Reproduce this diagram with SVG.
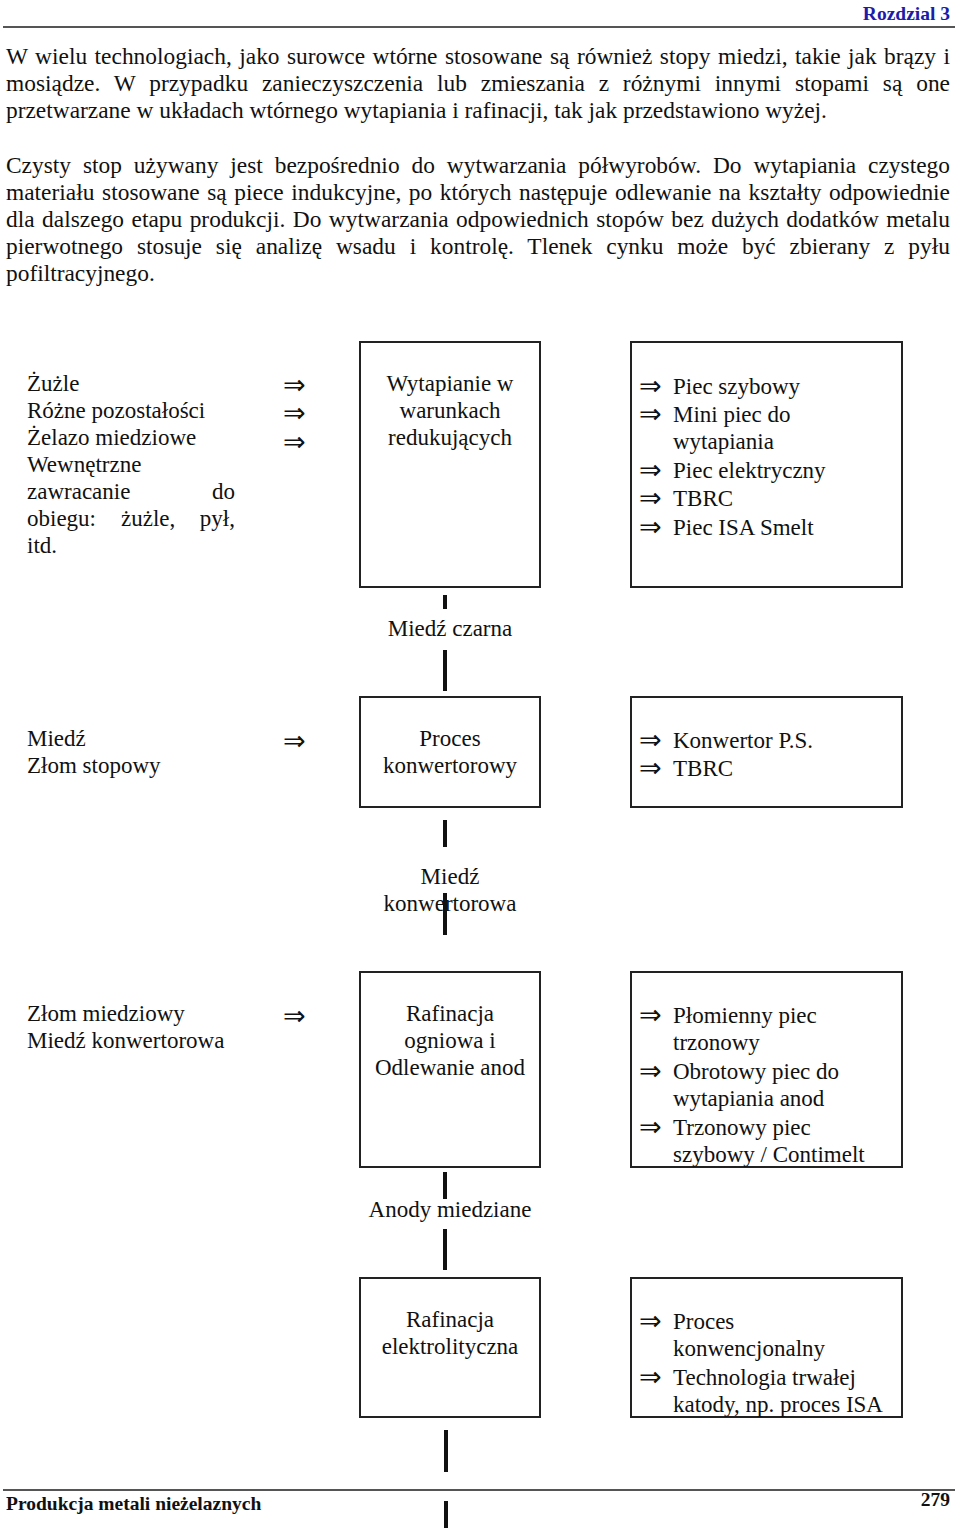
<svg xmlns="http://www.w3.org/2000/svg" width="960" height="1529" viewBox="0 0 960 1529">
<style>
text{font-family:"Liberation Serif","DejaVu Serif",serif;font-size:23px;fill:#111}
#body text{font-size:23.4px}
.c{text-anchor:middle}
.e{text-anchor:end}
.ar{font-family:"DejaVu Sans",sans-serif;font-size:27px;font-weight:normal}
.box{fill:none;stroke:#222;stroke-width:2}
.bar{stroke:#111;stroke-width:4}
.hd{font-weight:bold;font-size:19.5px}
</style>
<rect width="960" height="1529" fill="#fff"/>
<g id="header">
<text class="hd e" x="950" y="20" style="fill:#1c1caa">Rozdzial 3</text>
<line x1="3" y1="27" x2="955" y2="27" stroke="#555" stroke-width="2"/>
</g>
<g id="body">
<text x="6" y="64" word-spacing="1.6" textLength="944" lengthAdjust="spacing">W wielu technologiach, jako surowce wtórne stosowane są również stopy miedzi, takie jak brązy i</text>
<text x="6" y="91" word-spacing="7.9" textLength="944" lengthAdjust="spacing">mosiądze. W przypadku zanieczyszczenia lub zmieszania z różnymi innymi stopami są one</text>
<text x="6" y="118">przetwarzane w układach wtórnego wytapiania i rafinacji, tak jak przedstawiono wyżej.</text>
<text x="6" y="173" word-spacing="6" textLength="944" lengthAdjust="spacing">Czysty stop używany jest bezpośrednio do wytwarzania półwyrobów. Do wytapiania czystego</text>
<text x="6" y="200" word-spacing="1.7" textLength="944" lengthAdjust="spacing">materiału stosowane są piece indukcyjne, po których następuje odlewanie na kształty odpowiednie</text>
<text x="6" y="227" word-spacing="1.5" textLength="944" lengthAdjust="spacing">dla dalszego etapu produkcji. Do wytwarzania odpowiednich stopów bez dużych dodatków metalu</text>
<text x="6" y="254" word-spacing="8" textLength="944" lengthAdjust="spacing">pierwotnego stosuje się analizę wsadu i kontrolę. Tlenek cynku może być zbierany z pyłu</text>
<text x="6" y="281">pofiltracyjnego.</text>
</g>
<g id="connectors">
<line class="bar" x1="445" y1="595" x2="445" y2="609"/>
<line class="bar" x1="445" y1="650" x2="445" y2="691"/>
<line class="bar" x1="445" y1="820" x2="445" y2="847"/>
<line class="bar" x1="445" y1="893" x2="445" y2="935"/>
<line class="bar" x1="445" y1="1172" x2="445" y2="1199"/>
<line class="bar" x1="445" y1="1229" x2="445" y2="1270"/>
<line class="bar" x1="446" y1="1430" x2="446" y2="1472"/>
<line class="bar" x1="446" y1="1501" x2="446" y2="1528"/>
</g>
<g id="inputs1">
<text x="27" y="391">Żużle</text>
<text x="27" y="418">Różne pozostałości</text>
<text x="27" y="445">Żelazo miedziowe</text>
<text x="27" y="472">Wewnętrzne</text>
<text x="27" y="499">zawracanie</text>
<text class="e" x="235" y="499">do</text>
<text x="27" y="526">obiegu:</text>
<text x="121" y="526">żużle,</text>
<text class="e" x="235" y="526">pył,</text>
<text x="27" y="553">itd.</text>
<text class="ar" x="283" y="394">⇒</text>
<text class="ar" x="283" y="422">⇒</text>
<text class="ar" x="283" y="451">⇒</text>
</g>
<g id="node1">
<rect class="box" x="360" y="342" width="180" height="245"/>
<text class="c" x="450" y="391">Wytapianie w</text>
<text class="c" x="450" y="418">warunkach</text>
<text class="c" x="450" y="445">redukujących</text>
</g>
<g id="furnaces1">
<rect class="box" x="631" y="342" width="271" height="245"/>
<text class="ar" x="639" y="395">⇒</text>
<text x="673" y="394">Piec szybowy</text>
<text class="ar" x="639" y="423">⇒</text>
<text x="673" y="422">Mini piec do</text>
<text x="673" y="449">wytapiania</text>
<text class="ar" x="639" y="479">⇒</text>
<text x="673" y="478">Piec elektryczny</text>
<text class="ar" x="639" y="507">⇒</text>
<text x="673" y="506">TBRC</text>
<text class="ar" x="639" y="536">⇒</text>
<text x="673" y="535">Piec ISA Smelt</text>
</g>
<g id="label1"><text class="c" x="450" y="636">Miedź czarna</text></g>
<g id="inputs2">
<text x="27" y="746">Miedź</text>
<text x="27" y="773">Złom stopowy</text>
<text class="ar" x="283" y="750">⇒</text>
</g>
<g id="node2">
<rect class="box" x="360" y="697" width="180" height="110"/>
<text class="c" x="450" y="746">Proces</text>
<text class="c" x="450" y="773">konwertorowy</text>
</g>
<g id="furnaces2">
<rect class="box" x="631" y="697" width="271" height="110"/>
<text class="ar" x="639" y="749">⇒</text>
<text x="673" y="748">Konwertor P.S.</text>
<text class="ar" x="639" y="777">⇒</text>
<text x="673" y="776">TBRC</text>
</g>
<g id="label2">
<text class="c" x="450" y="884">Miedź</text>
<text class="c" x="450" y="911">konwertorowa</text>
</g>
<g id="inputs3">
<text x="27" y="1021">Złom miedziowy</text>
<text x="27" y="1048">Miedź konwertorowa</text>
<text class="ar" x="283" y="1025">⇒</text>
</g>
<g id="node3">
<rect class="box" x="360" y="972" width="180" height="195"/>
<text class="c" x="450" y="1021">Rafinacja</text>
<text class="c" x="450" y="1048">ogniowa i</text>
<text class="c" x="450" y="1075">Odlewanie anod</text>
</g>
<g id="furnaces3">
<rect class="box" x="631" y="972" width="271" height="195"/>
<text class="ar" x="639" y="1024">⇒</text>
<text x="673" y="1023">Płomienny piec</text>
<text x="673" y="1050">trzonowy</text>
<text class="ar" x="639" y="1080">⇒</text>
<text x="673" y="1079">Obrotowy piec do</text>
<text x="673" y="1106">wytapiania anod</text>
<text class="ar" x="639" y="1136">⇒</text>
<text x="673" y="1135">Trzonowy piec</text>
<text x="673" y="1162">szybowy / Contimelt</text>
</g>
<g id="label3"><text class="c" x="450" y="1217">Anody miedziane</text></g>
<g id="node4">
<rect class="box" x="360" y="1278" width="180" height="139"/>
<text class="c" x="450" y="1327">Rafinacja</text>
<text class="c" x="450" y="1354">elektrolityczna</text>
</g>
<g id="furnaces4">
<rect class="box" x="631" y="1278" width="271" height="139"/>
<text class="ar" x="639" y="1330">⇒</text>
<text x="673" y="1329">Proces</text>
<text x="673" y="1356">konwencjonalny</text>
<text class="ar" x="639" y="1386">⇒</text>
<text x="673" y="1385">Technologia trwałej</text>
<text x="673" y="1412">katody, np. proces ISA</text>
</g>
<g id="footer">
<line x1="3" y1="1490" x2="955" y2="1490" stroke="#555" stroke-width="2"/>
<text class="hd" x="6" y="1510">Produkcja metali nieżelaznych</text>
<text class="hd e" x="950" y="1506">279</text>
</g>
</svg>
